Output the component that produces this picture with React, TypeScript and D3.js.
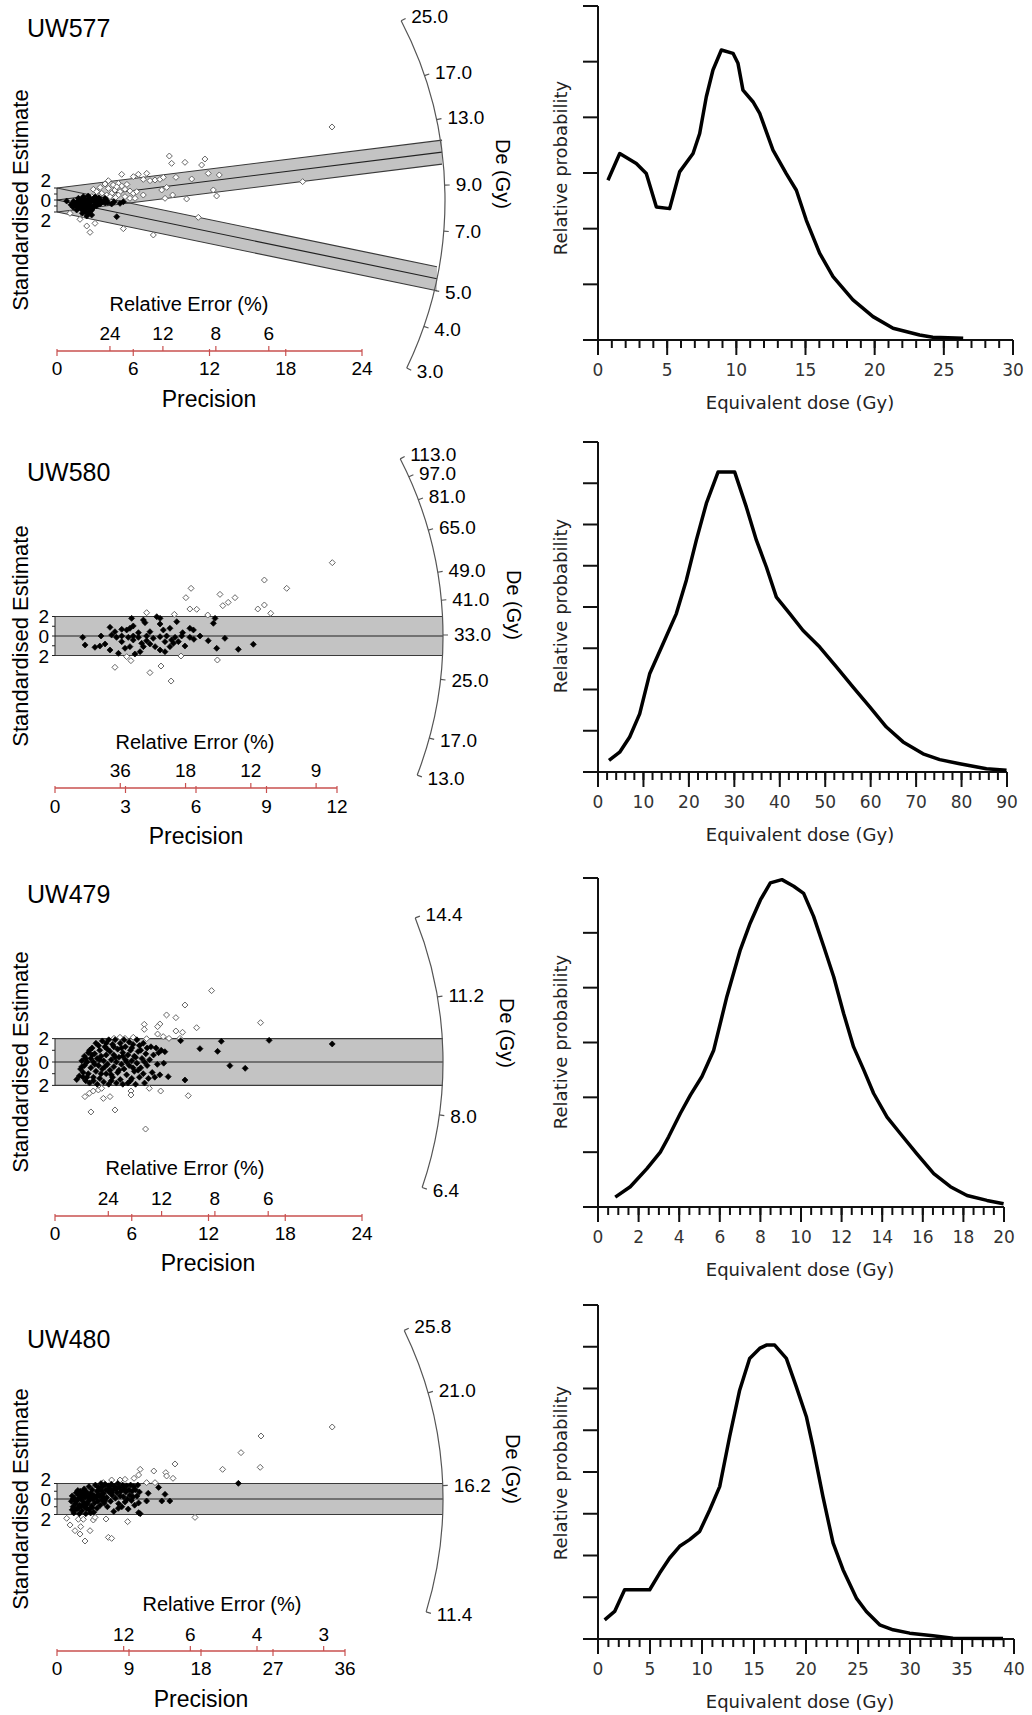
import * as d3 from 'd3';

type Pt = [number, number];

const SANS = '"Liberation Sans", Arial, sans-serif';
const GUI = '"DejaVu Sans", Verdana, sans-serif';

// ---------- UW577 ----------
// radial points: [precision, standardised estimate]
const uw577Open: Pt[] = [
  [8.84, 7.33], [9.02, 6.11], [10.07, 6.28], [11.64, 6.83], [11.38, 5.83], [5.09, 4.28], [6.4, 4.28],
  [7.06, 4.44], [6.01, 3.89], [6.79, 3.44], [7.32, 3.22], [7.71, 3.33], [8.1, 3.44], [8.37, 3.78],
  [9.36, 3.78], [10.6, 3.5], [11.9, 4.44], [12.77, 4.17], [4.04, 3.22], [3.78, 2.67], [4.43, 2.5],
  [4.83, 2.78], [5.09, 2.33], [4.04, 1.94], [4.56, 1.67], [4.96, 1.39], [5.35, 1.78], [5.74, 1.5],
  [2.86, 1.78], [3.12, 1.39], [3.52, 1.11], [3.91, 0.83], [4.3, 1.11], [4.83, 0.83], [6.01, 1.11],
  [6.27, 1.39], [6.79, 0.83], [8.24, 1.67], [8.63, 2.11], [9.1, 0.83], [8.5, 0.28], [10.2, 0.17],
  [12.3, 1.67], [12.56, 0.67], [19.33, 3.06], [11.12, -2.89], [7.58, -5.83], [5.22, -4.78],
  [2.34, -4.33], [2.6, -5.39], [2.99, -3.89], [1.81, -3.22], [1.02, -2.22], [2.07, -2.5],
  [5.35, 0.56], [5.74, 0.28], [6.14, 0.28], [2.73, 0.56], [3.64, 0], [4.17, 0.56], [21.64, 12.17],
  [3.4, 2.1], [4.7, 2.2], [5.5, 2.6], [3.3, 0.7], [4.6, 0.4],
];
const uw577Filled: Pt[] = [
  [0.76, -0.17], [1.68, 0.28], [1.94, 0], [2.07, -0.56], [2.34, -0.28], [2.6, 0.28], [2.86, 0],
  [3.12, 0.28], [3.38, 0], [3.64, -0.28], [3.91, -0.11], [4.3, -0.67], [4.96, -0.56], [5.22, -0.28],
  [1.28, -1.22], [1.55, -1.67], [1.94, -1.39], [2.2, -1.94], [2.46, -1.22], [2.73, -1.67],
  [2.99, -0.83], [3.25, -0.67], [1.81, -0.83], [1.42, -0.56], [2.07, 0.56], [2.46, 0.67],
  [4.7, -2.78], [2.73, -2.5], [2.34, -2.67], [2.2, -1.0], [2.86, -1.11], [1.76, -0.11],
  [3.38, -0.67], [3.78, 0.28], [1.5, -0.9], [1.6, -0.3], [1.7, -1.3], [1.9, -0.6], [2.0, -1.7],
  [2.1, -0.9], [2.2, 0.2], [2.3, -1.5], [2.4, -0.6], [2.5, -2.1], [2.6, -0.9], [2.7, -0.3],
  [2.8, -1.4], [2.9, 0.3], [3.0, -0.4], [3.1, -1.0], [3.2, -0.2], [3.5, -0.4], [3.0, 0.5],
  [2.5, 0.1], [1.3, -0.2], [1.1, -0.8], [2.0, -2.2], [2.6, -1.9], [3.3, 0.4], [4.0, -0.4],
  [4.5, -0.3], [3.8, -0.5],
];
const uw577Centres = [10.8, 5.35];
const uw577Ref = 8.3;
const uw577DeTicks = [25.0, 17.0, 13.0, 9.0, 7.0, 5.0, 4.0, 3.0];
const uw577PrecTicks = [0, 6, 12, 18, 24];
const uw577ErrTicks = [24, 12, 8, 6];
const uw577Dose = [0.72, 1.57, 2.77, 3.49, 4.22, 5.18, 5.9, 6.87, 7.35, 7.83, 8.31, 8.92, 9.76, 10.12, 10.48, 11.2, 11.69, 12.65, 13.61, 14.34, 15.06, 16.02, 16.99, 18.43, 19.88, 21.33, 23.25, 24.2, 26.4];
const uw577Prob = [2.87, 3.35, 3.17, 2.99, 2.39, 2.36, 3.02, 3.35, 3.71, 4.37, 4.85, 5.21, 5.15, 4.97, 4.49, 4.28, 4.07, 3.41, 2.99, 2.69, 2.15, 1.56, 1.14, 0.72, 0.42, 0.21, 0.09, 0.05, 0.03];

// ---------- UW580 ----------
const uw580Open: Pt[] = [
  [11.8, 7.52], [8.91, 5.74], [9.86, 4.89], [5.79, 4.89], [5.57, 3.93], [7.02, 4.27], [7.66, 3.93],
  [7.37, 3.45], [7.14, 3.11], [5.74, 2.77], [6.03, 2.74], [6.5, 2.15], [8.63, 2.77], [8.91, 3.18],
  [9.18, 2.33], [3.9, 2.39], [5.08, 2.22], [3.05, -2.12], [3.23, -2.53], [2.55, -3.21], [4.04, -3.76],
  [4.51, -3.08], [4.94, -4.62], [5.36, -2.05], [6.91, -2.46],
];
const uw580Filled: Pt[] = [
  [1.18, -0.14], [1.96, 0], [2.41, 0.1], [2.62, -0.14], [2.84, 0], [3.12, -0.14], [3.33, 0],
  [3.55, -0.14], [3.9, 0], [4.18, -0.24], [4.47, -0.07], [4.75, 0], [5.11, -0.14], [5.39, 0],
  [5.74, -0.14], [6.17, 0], [6.52, -0.48], [7.23, -0.24], [8.44, -0.85], [7.8, -1.37], [6.88, -1.26],
  [5.91, -0.34], [2.34, 0.89], [2.84, 0.68], [3.05, 0.62], [3.26, 1.81], [3.19, 0.79], [3.33, 1.03],
  [3.76, 1.64], [3.83, 1.37], [4.04, 0.44], [4.33, 1.98], [4.47, 1.81], [4.61, 0.62], [4.47, 1.23],
  [4.89, 0.79], [5.18, 1.47], [5.43, 0.34], [5.74, 0.79], [5.89, 0.62], [6.74, 1.3], [6.81, 1.81],
  [3.55, 0.34], [2.55, 0.44], [2.84, -0.58], [3.33, -0.41], [1.28, -0.92], [1.7, -1.16], [1.91, -1.03],
  [2.13, -0.82], [2.34, -1.44], [2.7, -1.78], [2.98, -1.26], [3.19, -1.09], [3.4, -1.85], [3.62, -1.61],
  [3.76, -1.09], [4.04, -0.82], [4.26, -1.09], [4.47, -1.44], [4.68, -1.61], [4.89, -1.09], [5.04, -0.75],
  [5.25, -0.58], [5.53, -1.03], [3.69, -0.75], [3.9, -0.48], [4.68, -0.58], [4.96, -0.41],
];
const uw580Centres = [32.8];
const uw580Ref = 32.8;
const uw580DeTicks = [113.0, 97.0, 81.0, 65.0, 49.0, 41.0, 33.0, 25.0, 17.0, 13.0];
const uw580PrecTicks = [0, 3, 6, 9, 12];
const uw580ErrTicks = [36, 18, 12, 9];
const uw580Dose = [2.42, 4.77, 6.97, 9.17, 11.37, 14.31, 17.24, 19.44, 21.64, 23.84, 26.41, 30.08, 32.65, 34.85, 37.05, 39.25, 42.19, 45.12, 48.79, 52.46, 56.13, 59.8, 63.46, 67.13, 71.53, 75.2, 79.6, 85.47, 89.9];
const uw580Prob = [0.28, 0.48, 0.85, 1.41, 2.38, 3.11, 3.84, 4.65, 5.62, 6.51, 7.27, 7.27, 6.42, 5.62, 4.97, 4.24, 3.84, 3.43, 3.03, 2.55, 2.06, 1.58, 1.09, 0.73, 0.44, 0.3, 0.2, 0.08, 0.04];

// ---------- UW479 ----------
const uw479Open: Pt[] = [
  [12.24, 6.1], [10.16, 4.87], [8.72, 4.02], [9.45, 3.79], [16.07, 3.36], [6.98, 3.22], [8.2, 3.25],
  [8.02, 3.02], [6.98, 2.79], [11.07, 2.93], [9.45, 2.65], [9.97, 2.54], [8.02, 2.39], [8.46, 2.17],
  [8.91, 2.02], [9.77, 2.02], [6.12, 2.11], [7.16, 1.99], [4.61, 2.02], [5.08, 2.11], [5.47, 2.02],
  [2.34, -2.96], [2.68, -2.68], [2.99, -2.48], [3.39, -2.39], [3.65, -2.25], [3.78, -3.11], [4.3, -2.96],
  [2.81, -4.27], [4.69, -4.1], [5.94, -2.48], [5.94, -2.82], [7.37, -2.25], [8.26, -2.48], [10.42, -2.88],
  [7.08, -5.73],
];
const uw479Filled: Pt[] = [
  [9.82, 1.82], [13.0, 1.77], [11.33, 1.14], [12.71, 0.91], [16.74, 1.85], [21.67, 1.54], [13.67, -0.31],
  [14.87, -0.54], [10.16, -1.54], [8.85, -1.25], [8.59, 0.88],
  [1.7, -1.5], [1.9, -1.2], [2.0, -0.6], [2.1, 0.1], [2.2, -0.9], [2.3, 0.5], [2.4, -1.6], [2.5, 0.0],
  [2.3, -0.3], [2.6, -1.0], [2.6, 0.8], [2.7, -1.8], [2.8, 0.3], [2.8, -0.5], [2.9, 1.2], [3.0, -1.3],
  [3.0, 0.0], [3.1, 0.7], [3.2, -0.8], [3.2, 1.6], [3.3, -1.9], [3.3, 0.3], [3.4, -0.3], [3.5, 1.0],
  [3.5, -1.4], [3.6, 0.5], [3.7, -0.6], [3.7, 1.8], [3.8, -1.7], [3.8, 0.1], [3.9, 1.3], [4.0, -1.0],
  [4.0, 0.6], [4.1, -0.2], [4.2, 1.9], [4.2, -1.9], [4.3, 0.9], [4.3, -0.7], [4.4, 0.2], [4.5, 1.5],
  [4.5, -1.3], [4.6, -0.4], [4.6, 0.6], [4.7, 1.9], [4.8, -1.8], [4.8, 0.0], [4.9, 1.1], [4.9, -0.9],
  [5.0, 0.4], [5.1, -1.5], [5.1, 1.6], [5.2, -0.2], [5.3, 0.8], [5.3, -1.9], [5.4, 1.9], [5.4, -0.6],
  [5.5, 0.2], [5.5, 1.3], [5.6, -1.1], [5.7, 0.6], [5.7, -1.8], [5.8, 1.7], [5.8, -0.3], [5.9, 1.0],
  [6.0, -1.4], [6.0, 0.1], [6.1, 1.5], [6.2, -0.8], [6.2, 0.5], [6.3, -1.9], [6.4, 1.9], [6.4, -0.1],
  [6.5, 0.9], [6.6, -1.3], [6.6, 1.4], [6.7, -0.5], [6.8, 0.3], [6.9, 1.6], [6.9, -1.0], [7.0, -1.8],
  [7.1, 0.7], [7.2, 1.2], [7.2, -0.3], [7.3, -1.4], [7.4, 0.2], [7.5, 1.3], [7.6, -0.9], [7.7, 0.6],
  [7.8, -1.3], [7.9, 1.2], [8.0, -0.2], [8.1, 0.8], [8.2, -1.1], [8.3, 1.0], [8.5, -0.1], [3.0, -1.6],
  [2.5, -1.3], [2.9, 0.6], [3.4, 1.4], [3.6, -1.0], [4.1, 1.1], [4.4, -1.6], [4.7, 0.4], [5.0, -0.7],
  [5.2, 1.2], [5.6, 0.0], [6.1, -0.5], [6.3, 0.4], [6.7, 1.0], [7.0, 0.0], [2.2, -1.3], [2.7, 1.0],
  [3.9, -0.4], [4.4, -1.1], [5.9, -1.6], [2.1, -0.4], [2.4, 0.3], [3.1, -0.2], [3.5, 0.2], [4.0, 1.6],
  [4.6, 1.3], [5.3, 0.5], [6.0, 1.2], [6.5, -0.7],
];
const uw479Centres = [9.3];
const uw479Ref = 9.3;
const uw479DeTicks = [14.4, 11.2, 8.0, 6.4];
const uw479PrecTicks = [0, 6, 12, 18, 24];
const uw479ErrTicks = [24, 12, 8, 6];
const uw479Dose = [0.85, 1.59, 2.41, 3.07, 3.48, 4.06, 4.55, 5.12, 5.7, 6.35, 7.01, 7.5, 8.0, 8.49, 9.06, 9.64, 10.13, 10.62, 11.12, 11.61, 12.1, 12.59, 13.09, 13.58, 14.24, 14.89, 15.71, 16.54, 17.36, 18.18, 19.16, 19.98];
const uw479Prob = [0.18, 0.37, 0.7, 1.0, 1.28, 1.71, 2.04, 2.38, 2.86, 3.84, 4.69, 5.18, 5.6, 5.91, 5.97, 5.85, 5.72, 5.3, 4.75, 4.2, 3.53, 2.92, 2.5, 2.07, 1.64, 1.34, 0.97, 0.61, 0.37, 0.21, 0.12, 0.06];

// ---------- UW480 ----------
const uw480Open: Pt[] = [
  [34.4, 9.29], [25.5, 8.13], [23.0, 5.98], [25.4, 4.09], [20.7, 3.83], [14.75, 4.52], [12.1, 3.61],
  [13.6, 3.4], [13.7, 2.97], [14.5, 2.67], [10.4, 3.83], [10.2, 3.1], [9.63, 2.67], [8.5, 2.54],
  [7.88, 2.45], [6.83, 2.45], [5.79, 2.11], [11.2, 2.11], [12.25, 2.11], [17.25, -2.37], [8.83, -2.92],
  [6.13, -2.58], [4.13, -4.09], [6.42, -4.95], [6.83, -5.08], [3.5, -5.42], [2.88, -4.52], [2.25, -4.09],
  [1.63, -3.35], [1.21, -2.49], [2.67, -2.62], [3.29, -2.62], [4.54, -2.71], [2.96, -3.57], [4.75, -2.37],
];
const uw480Filled: Pt[] = [
  [22.67, 2.02], [13.5, 0.6], [14.1, -0.26], [13.1, -0.26], [11.2, -0.26], [11.4, 0.73], [12.7, 1.5],
  [10.2, -1.76], [7.67, -1.2],
  [1.8, -0.3], [1.9, 0.4], [2.0, -1.0], [2.1, -1.8], [2.2, 0.1], [2.3, -0.6], [2.4, 0.8], [2.5, -1.3],
  [2.6, -0.1], [2.7, 0.5], [2.8, -1.9], [2.8, -0.8], [2.9, 1.0], [3.0, 0.0], [3.1, -1.5], [3.2, 0.6],
  [3.3, -0.4], [3.4, 1.3], [3.5, -1.1], [3.5, 0.2], [3.6, -1.9], [3.7, 0.9], [3.8, -0.6], [3.9, 0.3],
  [4.0, 1.6], [4.0, -1.4], [4.1, -0.1], [4.2, 0.7], [4.3, -0.9], [4.4, 1.2], [4.5, 0.0], [4.6, -1.7],
  [4.6, 0.5], [4.7, -0.5], [4.8, 1.8], [4.9, 0.2], [5.0, -1.2], [5.0, 1.0], [5.1, -0.3], [5.2, 1.5],
  [5.3, 0.4], [5.4, -0.8], [5.5, 2.0], [5.5, 1.1], [5.6, -0.1], [5.7, 1.6], [5.8, 0.7], [5.9, -0.5],
  [6.0, 1.9], [6.1, 1.2], [6.2, 0.2], [6.3, -1.0], [6.4, 1.7], [6.5, 0.9], [6.6, 1.4], [6.7, -0.3],
  [6.8, 1.9], [6.9, 0.5], [7.0, 1.1], [7.1, -1.6], [7.2, 1.6], [7.3, 0.1], [7.4, 1.3], [7.5, 0.8],
  [7.6, 2.0], [7.7, -0.6], [7.8, 1.5], [7.9, 0.4], [8.0, 1.0], [8.1, -1.0], [8.2, 1.8], [8.3, 0.3],
  [8.4, 1.3], [8.5, -0.4], [8.6, 0.9], [8.7, 1.7], [8.8, 0.0], [8.9, -1.3], [9.0, 1.2], [9.1, 0.5],
  [9.2, 1.8], [9.3, -0.2], [9.4, 1.0], [9.5, 0.3], [9.6, 1.6], [9.7, -0.8], [9.8, 1.2], [10.0, 0.4],
  [10.1, 1.8], [10.2, -0.5], [10.3, 0.9], [10.4, -1.9], [2.2, -1.4], [2.6, 1.1], [3.0, -0.9], [3.3, 0.9],
  [3.7, -1.2], [4.2, -1.8], [2.4, -0.3], [3.1, 0.4], [3.9, -0.3], [4.4, -1.1], [5.2, 0.6], [6.0, -0.2],
  [6.8, 0.8], [1.9, -1.4], [2.7, -1.1], [3.4, -0.7], [2.0, 0.0], [2.9, 0.2], [3.6, 0.6], [4.3, 0.3],
  [5.7, 0.3],
];
const uw480Centres = [15.63];
const uw480Ref = 15.63;
const uw480DeTicks = [25.8, 21.0, 16.2, 11.4];
const uw480PrecTicks = [0, 9, 18, 27, 36];
const uw480ErrTicks = [12, 6, 4, 3];
const uw480Dose = [0.64, 1.6, 2.56, 4.97, 5.93, 6.89, 7.85, 8.81, 9.78, 10.74, 11.7, 12.66, 13.62, 14.58, 15.54, 16.19, 16.99, 18.11, 19.07, 20.03, 20.67, 21.63, 22.6, 23.56, 24.84, 25.8, 27.08, 28.37, 29.97, 32.21, 34.13, 38.94];
const uw480Prob = [0.46, 0.66, 1.18, 1.18, 1.58, 1.94, 2.22, 2.38, 2.58, 3.09, 3.65, 4.85, 5.96, 6.72, 6.96, 7.04, 7.04, 6.72, 6.04, 5.33, 4.61, 3.41, 2.3, 1.66, 0.98, 0.66, 0.34, 0.22, 0.14, 0.08, 0.02, 0.01];

type RadialCfg = {
  title: string; titleY: number;
  ox: number; oy: number; pMax: number; xEnd: number; yUnit: number; R: number;
  ref: number; centres: number[]; deTicks: number[];
  precTicks: number[]; errTicks: number[];
  open: Pt[]; filled: Pt[];
  axisY: number; precLabelY: number; errLabelY: number; errTitleY: number; errTitleX: number;
  precTitleY: number; precTitleX: number; deLabel: [number, number];
};

type DensityCfg = {
  right: number; top: number; bottom: number; xMax: number; yMax: number;
  major: number; minor: number; dose: number[]; prob: number[]; labelY: number;
};

const radials: RadialCfg[] = [
  {
    title: 'UW577', titleY: 37, ox: 57, oy: 200, pMax: 24, xEnd: 362, yUnit: 6, R: 388,
    ref: uw577Ref, centres: uw577Centres, deTicks: uw577DeTicks,
    precTicks: uw577PrecTicks, errTicks: uw577ErrTicks, open: uw577Open, filled: uw577Filled,
    axisY: 351, precLabelY: 368, errLabelY: 333, errTitleY: 304, errTitleX: 189,
    precTitleY: 399, precTitleX: 209, deLabel: [503, 174],
  },
  {
    title: 'UW580', titleY: 481, ox: 55, oy: 636, pMax: 12, xEnd: 337, yUnit: 9.75, R: 388,
    ref: uw580Ref, centres: uw580Centres, deTicks: uw580DeTicks,
    precTicks: uw580PrecTicks, errTicks: uw580ErrTicks, open: uw580Open, filled: uw580Filled,
    axisY: 788, precLabelY: 806, errLabelY: 770, errTitleY: 742, errTitleX: 195,
    precTitleY: 836, precTitleX: 196, deLabel: [514, 605],
  },
  {
    title: 'UW479', titleY: 903, ox: 55, oy: 1062, pMax: 24, xEnd: 362, yUnit: 11.7, R: 388,
    ref: uw479Ref, centres: uw479Centres, deTicks: uw479DeTicks,
    precTicks: uw479PrecTicks, errTicks: uw479ErrTicks, open: uw479Open, filled: uw479Filled,
    axisY: 1216, precLabelY: 1233, errLabelY: 1198, errTitleY: 1168, errTitleX: 185,
    precTitleY: 1263, precTitleX: 208, deLabel: [507, 1033],
  },
  {
    title: 'UW480', titleY: 1348, ox: 57, oy: 1499, pMax: 36, xEnd: 345, yUnit: 7.75, R: 386,
    ref: uw480Ref, centres: uw480Centres, deTicks: uw480DeTicks,
    precTicks: uw480PrecTicks, errTicks: uw480ErrTicks, open: uw480Open, filled: uw480Filled,
    axisY: 1651, precLabelY: 1668, errLabelY: 1634, errTitleY: 1604, errTitleX: 222,
    precTitleY: 1699, precTitleX: 201, deLabel: [513, 1469],
  },
];

const densities: DensityCfg[] = [
  { right: 1013, top: 6, bottom: 340, xMax: 30, yMax: 6, major: 5, minor: 1, dose: uw577Dose, prob: uw577Prob, labelY: 168 },
  { right: 1007, top: 442, bottom: 772, xMax: 90, yMax: 8, major: 10, minor: 2, dose: uw580Dose, prob: uw580Prob, labelY: 606 },
  { right: 1004, top: 878, bottom: 1207, xMax: 20, yMax: 6, major: 2, minor: 0.5, dose: uw479Dose, prob: uw479Prob, labelY: 1042 },
  { right: 1014, top: 1305, bottom: 1639, xMax: 40, yMax: 8, major: 5, minor: 1, dose: uw480Dose, prob: uw480Prob, labelY: 1473 },
];

const diamond = (cx: number, cy: number, r: number) =>
  `M${cx},${cy - r}L${cx + r},${cy}L${cx},${cy + r}L${cx - r},${cy}Z`;

function Radial({ c }: { c: RadialCfg }) {
  const x = d3.scaleLinear().domain([0, c.pMax]).range([c.ox, c.xEnd]);
  const y = d3.scaleLinear().domain([0, 1]).range([c.oy, c.oy - c.yUnit]);
  const xPx = (c.xEnd - c.ox) / c.pMax;
  const theta = (de: number) => Math.atan((Math.log(de / c.ref) * c.yUnit) / xPx);
  const onArc = (t: number, r: number): [number, number] => [c.ox + r * Math.cos(t), c.oy - r * Math.sin(t)];
  const tTop = theta(d3.max(c.deTicks) as number);
  const tBot = theta(d3.min(c.deTicks) as number);
  const [ax1, ay1] = onArc(tTop, c.R);
  const [ax2, ay2] = onArc(tBot, c.R);
  const arcPath = `M${ax1},${ay1} A${c.R},${c.R} 0 0 1 ${ax2},${ay2}`;

  const bands = c.centres.map((de) => {
    const s = Math.log(de / c.ref);
    const pEnd = (c.R * Math.cos(theta(de))) / xPx;
    return { s, pEnd };
  });
  const lineGen = d3.line<Pt>().x((d) => x(d[0])).y((d) => y(d[1]));
  const labelOff = Math.max(2 * c.yUnit, 20);

  return (
    <g>
      <text x={27} y={c.titleY} fontFamily={SANS} fontSize={25}>{c.title}</text>
      {bands.map((b, i) => (
        <path key={'bf' + i} fill="#c3c3c3" stroke="none"
          d={lineGen([[0, 2], [b.pEnd, b.s * b.pEnd + 2], [b.pEnd, b.s * b.pEnd - 2], [0, -2]]) + 'Z'} />
      ))}
      {bands.map((b, i) => (
        <g key={'bl' + i} fill="none">
          <path stroke="#3a3a3a" strokeWidth={1.2} d={lineGen([[0, 2], [b.pEnd, b.s * b.pEnd + 2]]) as string} />
          <path stroke="#3a3a3a" strokeWidth={1.2} d={lineGen([[0, -2], [b.pEnd, b.s * b.pEnd - 2]]) as string} />
          <path stroke="#222" strokeWidth={1.2} d={lineGen([[0, 0], [b.pEnd, b.s * b.pEnd]]) as string} />
        </g>
      ))}
      {/* z axis at origin */}
      <line x1={c.ox} x2={c.ox} y1={y(-2)} y2={y(2)} stroke="#222" strokeWidth={1} />
      {[-2, -1, 0, 1, 2].map((t) => (
        <line key={t} x1={c.ox - 3} x2={c.ox} y1={y(t)} y2={y(t)} stroke="#222" strokeWidth={1} />
      ))}
      {[labelOff, 0, -labelOff].map((off, i) => (
        <text key={i} x={c.ox - 6} y={c.oy - off} textAnchor="end" dominantBaseline="central"
          fontFamily={SANS} fontSize={19}>{i === 1 ? '0' : '2'}</text>
      ))}
      {c.open.map((d, i) => (
        <path key={'o' + i} d={diamond(x(d[0]), y(d[1]), 3)} fill="#fff" stroke="#666" strokeWidth={1} />
      ))}
      {c.filled.map((d, i) => (
        <path key={'f' + i} d={diamond(x(d[0]), y(d[1]), 3)} fill="#000" stroke="#000" strokeWidth={0.7} />
      ))}
      {/* De arc */}
      <path d={arcPath} fill="none" stroke="#555" strokeWidth={1.2} />
      {c.deTicks.map((de) => {
        const t = theta(de);
        const [x1, y1] = onArc(t, c.R);
        const [x2, y2] = onArc(t, c.R + 5);
        const [lx, ly] = onArc(t, c.R + 9);
        return (
          <g key={de}>
            <line x1={x1} y1={y1} x2={x2} y2={y2} stroke="#555" strokeWidth={1.2} />
            <text x={lx + 2} y={ly} dominantBaseline="central" fontFamily={SANS} fontSize={19}>{de.toFixed(1)}</text>
          </g>
        );
      })}
      <text transform={`translate(${c.deLabel[0]},${c.deLabel[1]}) rotate(90)`} textAnchor="middle"
        dominantBaseline="central" fontFamily={SANS} fontSize={20}>De (Gy)</text>
      <text transform={`translate(20,${c.oy}) rotate(-90)`} textAnchor="middle" dominantBaseline="central"
        fontFamily={SANS} fontSize={22}>Standardised Estimate</text>
      {/* precision / relative error axis */}
      <line x1={x(0)} x2={x(c.pMax)} y1={c.axisY} y2={c.axisY} stroke="#c8504f" strokeWidth={1.5} />
      {c.precTicks.map((p) => (
        <g key={'p' + p}>
          <line x1={x(p)} x2={x(p)} y1={c.axisY - 2} y2={c.axisY + 5} stroke="#c8504f" strokeWidth={1.2} />
          <text x={x(p)} y={c.precLabelY} textAnchor="middle" dominantBaseline="central"
            fontFamily={SANS} fontSize={19}>{p}</text>
        </g>
      ))}
      {c.errTicks.map((e) => (
        <g key={'e' + e}>
          <line x1={x(100 / e)} x2={x(100 / e)} y1={c.axisY - 5} y2={c.axisY} stroke="#c8504f" strokeWidth={1.2} />
          <text x={x(100 / e)} y={c.errLabelY} textAnchor="middle" dominantBaseline="central"
            fontFamily={SANS} fontSize={19}>{e}</text>
        </g>
      ))}
      <text x={c.errTitleX} y={c.errTitleY} textAnchor="middle" dominantBaseline="central"
        fontFamily={SANS} fontSize={20}>Relative Error (%)</text>
      <text x={c.precTitleX} y={c.precTitleY} textAnchor="middle" dominantBaseline="central"
        fontFamily={SANS} fontSize={23}>Precision</text>
    </g>
  );
}

function Density({ c }: { c: DensityCfg }) {
  const left = 598;
  const x = d3.scaleLinear().domain([0, c.xMax]).range([left, c.right]);
  const y = d3.scaleLinear().domain([0, c.yMax]).range([c.bottom, c.top]);
  const line = d3.line<number>().x((_, i) => x(c.dose[i])).y((d) => y(d));
  const minor = d3.range(0, c.xMax + 1e-9, c.minor);
  const major = d3.range(0, c.xMax + 1e-9, c.major);
  return (
    <g>
      <line x1={left} x2={left} y1={c.top} y2={c.bottom} stroke="#111" strokeWidth={2} />
      <line x1={left - 15} x2={c.right} y1={c.bottom} y2={c.bottom} stroke="#111" strokeWidth={2} />
      {d3.range(0, c.yMax + 1).map((t) => (
        <line key={'y' + t} x1={left - 15} x2={left} y1={y(t)} y2={y(t)} stroke="#111" strokeWidth={2} />
      ))}
      {minor.map((t) => (
        <line key={'m' + t} x1={x(t)} x2={x(t)} y1={c.bottom} y2={c.bottom + 8} stroke="#111" strokeWidth={2} />
      ))}
      {major.map((t) => (
        <g key={'M' + t}>
          <line x1={x(t)} x2={x(t)} y1={c.bottom} y2={c.bottom + 15} stroke="#111" strokeWidth={2} />
          <text x={x(t)} y={c.bottom + 30} textAnchor="middle" dominantBaseline="central"
            fontFamily={GUI} fontSize={17} fill="#333">{t}</text>
        </g>
      ))}
      <path d={line(c.prob) as string} fill="none" stroke="#000" strokeWidth={3.5} strokeLinejoin="round" />
      <text x={800} y={c.bottom + 62} textAnchor="middle" dominantBaseline="central"
        fontFamily={GUI} fontSize={18} fill="#222">Equivalent dose (Gy)</text>
      <text transform={`translate(560,${c.labelY}) rotate(-90)`} textAnchor="middle" dominantBaseline="central"
        fontFamily={GUI} fontSize={18} fill="#222">Relative probability</text>
    </g>
  );
}

export default function App() {
  return (
    <svg width={1032} height={1715} style={{ position: 'absolute', left: 0, top: 0, background: '#fff' }}>
      {radials.map((c) => <Radial key={c.title} c={c} />)}
      {densities.map((c, i) => <Density key={i} c={c} />)}
    </svg>
  );
}
